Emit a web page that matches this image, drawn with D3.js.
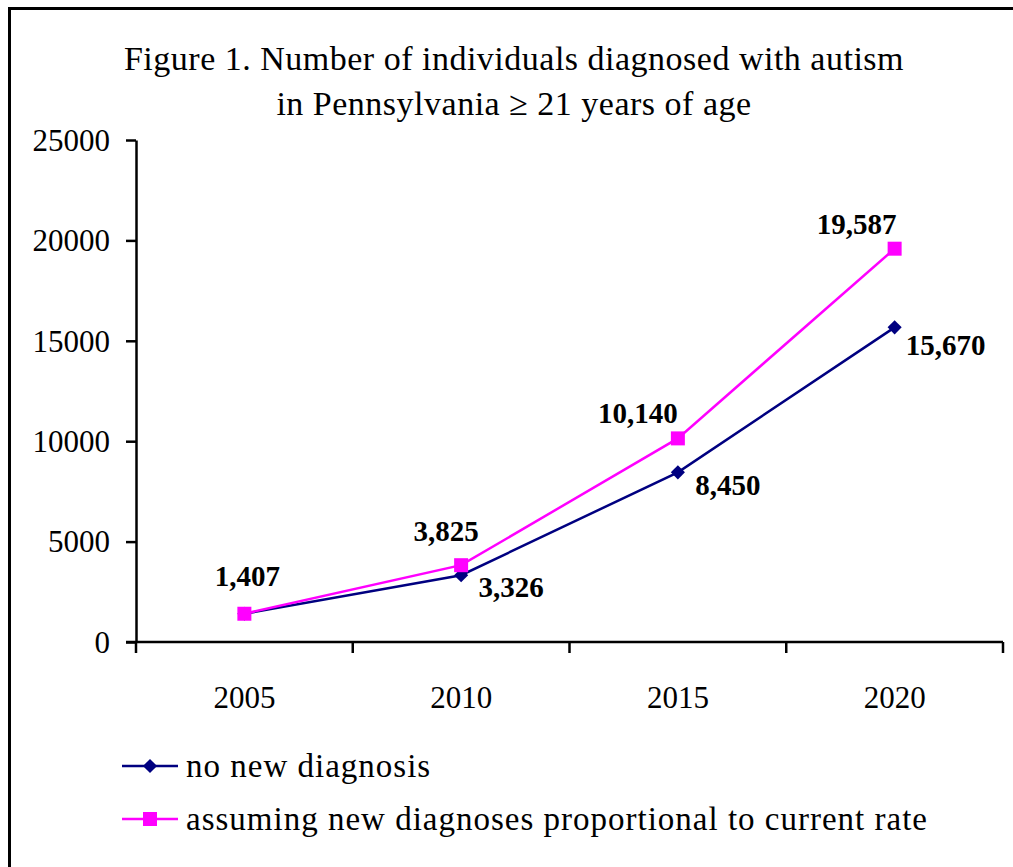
<!DOCTYPE html>
<html>
<head>
<meta charset="utf-8">
<script src="https://cdn.jsdelivr.net/npm/d3@7"></script>
<style>
  html, body { margin: 0; padding: 0; background: #fff; overflow: hidden; }
  svg { display: block; }
</style>
</head>
<body>
<svg id="chart" width="1013" height="867"></svg>
<script>
const years = ["2005", "2010", "2015", "2020"];
const noNew = [1407, 3326, 8450, 15670];
const proportional = [1407, 3825, 10140, 19587];
const yTicks = [0, 5000, 10000, 15000, 20000, 25000];
const titleLines = ["Figure 1. Number of individuals diagnosed with autism", "in Pennsylvania \u2265 21 years of age"];
const seriesNames = ["no new diagnosis", "assuming new diagnoses proportional to current rate"];
const seriesColors = ["#000080", "#ff00ff"];

// label offsets (presentation only): [dx, dy] relative to the point
const labelOffsetsNoNew = [[0, 0], [50, 22], [50, 23], [51, 28]];
const labelOffsetsProp = [[3, -28], [-15, -24], [-40, -15], [-38, -15]];

const svg = d3.select("#chart");
const serif = "'Liberation Serif', 'Times New Roman', serif";

// outer border (left and top edges visible)
svg.append("line").attr("x1", 9.5).attr("x2", 9.5).attr("y1", 7).attr("y2", 867)
  .attr("stroke", "#000").attr("stroke-width", 3);
svg.append("line").attr("x1", 8).attr("x2", 1013).attr("y1", 8.5).attr("y2", 8.5)
  .attr("stroke", "#000").attr("stroke-width", 3);

const plotLeft = 136, plotRight = 1003, plotTop = 140, plotBottom = 642;
const x = d3.scaleBand().domain(years).range([plotLeft, plotRight]);
const y = d3.scaleLinear().domain([0, 25000]).range([plotBottom, plotTop]);
const cx = d => x(d) + x.bandwidth() / 2;

// title
svg.append("g").selectAll("text").data(titleLines).join("text")
  .attr("x", 514).attr("y", (d, i) => 70 + i * 45)
  .attr("text-anchor", "middle")
  .attr("font-family", serif).attr("font-size", 34).attr("letter-spacing", 0.5)
  .attr("fill", "#000")
  .text(d => d);

// y axis
const yAxis = svg.append("g").attr("transform", `translate(${plotLeft},0)`)
  .call(d3.axisLeft(y).tickValues(yTicks).tickSize(10).tickPadding(16).tickFormat(d3.format("d")).tickSizeOuter(0));
yAxis.select(".domain").attr("stroke-width", 2.5);
yAxis.selectAll(".tick line").attr("stroke-width", 2.5);
yAxis.selectAll(".tick text").attr("font-family", serif).attr("font-size", 31).attr("dy", "0.33em").attr("fill", "#000");

// x axis labels (band centres)
const xAxis = svg.append("g").attr("transform", `translate(0,${plotBottom})`)
  .call(d3.axisBottom(x).tickSize(0).tickPadding(44).tickSizeOuter(0));
xAxis.select(".domain").remove();
xAxis.selectAll(".tick text").attr("font-family", serif).attr("font-size", 31).attr("fill", "#000");

// x axis line + boundary ticks
svg.append("line").attr("x1", plotLeft - 10).attr("x2", plotRight).attr("y1", plotBottom).attr("y2", plotBottom)
  .attr("stroke", "#000").attr("stroke-width", 2.5);
const boundaries = years.map(d => x(d)).concat([x.range()[1]]);
svg.append("g").selectAll("line").data(boundaries).join("line")
  .attr("x1", d => d).attr("x2", d => d)
  .attr("y1", plotBottom).attr("y2", plotBottom + 11)
  .attr("stroke", "#000").attr("stroke-width", 2.5);

const line = d3.line().x(d => cx(d.year)).y(d => y(d.value));
const dataNoNew = years.map((yr, i) => ({ year: yr, value: noNew[i] }));
const dataProp = years.map((yr, i) => ({ year: yr, value: proportional[i] }));

// series 1: no new diagnosis (navy, diamonds)
svg.append("path").datum(dataNoNew).attr("d", line)
  .attr("fill", "none").attr("stroke", seriesColors[0]).attr("stroke-width", 2.5);
const diamond = d3.symbol().type(d3.symbolSquare).size(100);
svg.append("g").selectAll("path").data(dataNoNew).join("path")
  .attr("d", diamond)
  .attr("transform", d => `translate(${cx(d.year)},${y(d.value)}) rotate(45)`)
  .attr("fill", seriesColors[0]);

// series 2: proportional (magenta, squares)
svg.append("path").datum(dataProp).attr("d", line)
  .attr("fill", "none").attr("stroke", seriesColors[1]).attr("stroke-width", 2.5);
const square = d3.symbol().type(d3.symbolSquare).size(196);
svg.append("g").selectAll("path").data(dataProp).join("path")
  .attr("d", square)
  .attr("transform", d => `translate(${cx(d.year)},${y(d.value)})`)
  .attr("fill", seriesColors[1]);

// data labels
const fmt = d3.format(",");
svg.append("g").selectAll("text").data(dataProp).join("text")
  .attr("x", (d, i) => cx(d.year) + labelOffsetsProp[i][0])
  .attr("y", (d, i) => y(d.value) + labelOffsetsProp[i][1])
  .attr("text-anchor", "middle")
  .attr("font-family", serif).attr("font-weight", "bold").attr("font-size", 29)
  .text(d => fmt(d.value));
svg.append("g").selectAll("text").data(dataNoNew.slice(1)).join("text")
  .attr("x", (d, i) => cx(d.year) + labelOffsetsNoNew[i + 1][0])
  .attr("y", (d, i) => y(d.value) + labelOffsetsNoNew[i + 1][1])
  .attr("text-anchor", "middle")
  .attr("font-family", serif).attr("font-weight", "bold").attr("font-size", 29)
  .text(d => fmt(d.value));

// legend
const legend = svg.append("g");
const legY = [766, 819];
seriesNames.forEach((name, i) => {
  const g = legend.append("g").attr("transform", `translate(0,${legY[i]})`);
  g.append("line").attr("x1", 122).attr("x2", 178).attr("y1", 0).attr("y2", 0)
    .attr("stroke", seriesColors[i]).attr("stroke-width", 2.5);
  g.append("path").attr("d", i === 0 ? diamond : square)
    .attr("transform", i === 0 ? "translate(150,0) rotate(45)" : "translate(150,0)")
    .attr("fill", seriesColors[i]);
  g.append("text").attr("x", 186).attr("y", 11)
    .attr("font-family", serif).attr("font-size", 33).attr("letter-spacing", 1).attr("fill", "#000")
    .text(name);
});
</script>
</body>
</html>
